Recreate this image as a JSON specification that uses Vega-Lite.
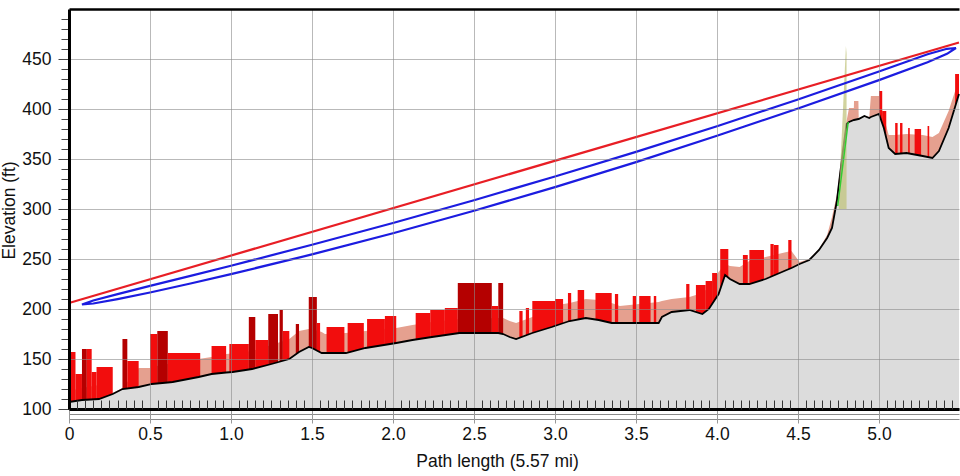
{
  "$schema": "https://vega.github.io/schema/vega-lite/v6.json",
  "width": 890,
  "height": 400,
  "autosize": {"type": "none"},
  "padding": {"left": 69, "top": 9, "right": 1, "bottom": 67},
  "background": "white",
  "config": {"view": {"stroke": null}, "font": "Liberation Sans"},
  "resolve": {"axis": {"x": "independent", "y": "independent"}},
  "datasets": {
    "profile": [
      {"x": 0, "ground": 107, "clutter": 118},
      {"x": 0.08, "ground": 109, "clutter": 121},
      {"x": 0.185, "ground": 110, "clutter": 124},
      {"x": 0.27, "ground": 115, "clutter": 116},
      {"x": 0.33, "ground": 120, "clutter": 121},
      {"x": 0.43, "ground": 122, "clutter": 141},
      {"x": 0.5, "ground": 124.5, "clutter": 141},
      {"x": 0.51, "ground": 125, "clutter": 142},
      {"x": 0.61, "ground": 126.5, "clutter": 145},
      {"x": 0.64, "ground": 127, "clutter": 146},
      {"x": 0.8, "ground": 132, "clutter": 150},
      {"x": 0.88, "ground": 135, "clutter": 152},
      {"x": 0.97, "ground": 136.5, "clutter": 155},
      {"x": 1.01, "ground": 137, "clutter": 155.5},
      {"x": 1.13, "ground": 140, "clutter": 158},
      {"x": 1.25, "ground": 145, "clutter": 164},
      {"x": 1.36, "ground": 150, "clutter": 170},
      {"x": 1.42, "ground": 157, "clutter": 178},
      {"x": 1.48, "ground": 162, "clutter": 180},
      {"x": 1.5, "ground": 161, "clutter": 180},
      {"x": 1.56, "ground": 156, "clutter": 177},
      {"x": 1.58, "ground": 156, "clutter": 175},
      {"x": 1.71, "ground": 156, "clutter": 176},
      {"x": 1.83, "ground": 161, "clutter": 178},
      {"x": 2.02, "ground": 166, "clutter": 181},
      {"x": 2.12, "ground": 169, "clutter": 184},
      {"x": 2.24, "ground": 172, "clutter": 187},
      {"x": 2.41, "ground": 176, "clutter": 190},
      {"x": 2.65, "ground": 176, "clutter": 191},
      {"x": 2.68, "ground": 175, "clutter": 191},
      {"x": 2.72, "ground": 172, "clutter": 188},
      {"x": 2.76, "ground": 170, "clutter": 186},
      {"x": 2.86, "ground": 176, "clutter": 192},
      {"x": 2.98, "ground": 182, "clutter": 203},
      {"x": 3.09, "ground": 188, "clutter": 206},
      {"x": 3.19, "ground": 191, "clutter": 210},
      {"x": 3.27, "ground": 189, "clutter": 209},
      {"x": 3.35, "ground": 186, "clutter": 206},
      {"x": 3.4, "ground": 186, "clutter": 203},
      {"x": 3.52, "ground": 186, "clutter": 205},
      {"x": 3.64, "ground": 186, "clutter": 207},
      {"x": 3.66, "ground": 192, "clutter": 208},
      {"x": 3.72, "ground": 197, "clutter": 210},
      {"x": 3.83, "ground": 199, "clutter": 212},
      {"x": 3.91, "ground": 195, "clutter": 216},
      {"x": 3.95, "ground": 200, "clutter": 222},
      {"x": 4.01, "ground": 215, "clutter": 237},
      {"x": 4.05, "ground": 234, "clutter": 245},
      {"x": 4.08, "ground": 230, "clutter": 243},
      {"x": 4.14, "ground": 225, "clutter": 242},
      {"x": 4.2, "ground": 225, "clutter": 248},
      {"x": 4.3, "ground": 230, "clutter": 252},
      {"x": 4.43, "ground": 239, "clutter": 257},
      {"x": 4.46, "ground": 241, "clutter": 258},
      {"x": 4.51, "ground": 245, "clutter": 247},
      {"x": 4.57, "ground": 249, "clutter": 250},
      {"x": 4.63, "ground": 259, "clutter": 260},
      {"x": 4.68, "ground": 271, "clutter": 274},
      {"x": 4.71, "ground": 281, "clutter": 292},
      {"x": 4.74, "ground": 308, "clutter": 314},
      {"x": 4.76, "ground": 335, "clutter": 340},
      {"x": 4.78, "ground": 361, "clutter": 366},
      {"x": 4.8, "ground": 385, "clutter": 388},
      {"x": 4.815, "ground": 387, "clutter": 401},
      {"x": 4.845, "ground": 389, "clutter": 401},
      {"x": 4.846, "ground": 389, "clutter": 408},
      {"x": 4.873, "ground": 390, "clutter": 408},
      {"x": 4.875, "ground": 390, "clutter": 391},
      {"x": 4.91, "ground": 393, "clutter": 393},
      {"x": 4.94, "ground": 391, "clutter": 392},
      {"x": 4.95, "ground": 392, "clutter": 413},
      {"x": 5.0, "ground": 395, "clutter": 413},
      {"x": 5.03, "ground": 381, "clutter": 392},
      {"x": 5.06, "ground": 361, "clutter": 374},
      {"x": 5.1, "ground": 355, "clutter": 374},
      {"x": 5.17, "ground": 356, "clutter": 375},
      {"x": 5.27, "ground": 353, "clutter": 374},
      {"x": 5.33, "ground": 351, "clutter": 372},
      {"x": 5.37, "ground": 358, "clutter": 376},
      {"x": 5.43, "ground": 381, "clutter": 398},
      {"x": 5.494, "ground": 415, "clutter": 430}
    ],
    "bars": [
      {"x0": 0.0, "x1": 0.04, "top": 157, "base": 107, "kind": "red"},
      {"x0": 0.04, "x1": 0.08, "top": 135, "base": 108, "kind": "red"},
      {"x0": 0.08, "x1": 0.11, "top": 160, "base": 109, "kind": "dark"},
      {"x0": 0.11, "x1": 0.14, "top": 160, "base": 109.5, "kind": "red"},
      {"x0": 0.14, "x1": 0.17, "top": 137, "base": 109.5, "kind": "red"},
      {"x0": 0.17, "x1": 0.27, "top": 142, "base": 110, "kind": "red"},
      {"x0": 0.33, "x1": 0.36, "top": 170, "base": 120, "kind": "dark"},
      {"x0": 0.36, "x1": 0.43, "top": 148, "base": 120.5, "kind": "red"},
      {"x0": 0.5, "x1": 0.545, "top": 175, "base": 124.5, "kind": "red"},
      {"x0": 0.545, "x1": 0.61, "top": 178, "base": 125.5, "kind": "dark"},
      {"x0": 0.61, "x1": 0.81, "top": 156, "base": 126.5, "kind": "red"},
      {"x0": 0.88, "x1": 0.97, "top": 163, "base": 135, "kind": "red"},
      {"x0": 0.99, "x1": 1.11, "top": 165, "base": 137, "kind": "red"},
      {"x0": 1.11, "x1": 1.15, "top": 192, "base": 139.5, "kind": "dark"},
      {"x0": 1.15, "x1": 1.23, "top": 169, "base": 140.8, "kind": "red"},
      {"x0": 1.23, "x1": 1.29, "top": 195, "base": 144, "kind": "dark"},
      {"x0": 1.3, "x1": 1.32, "top": 199, "base": 147.5, "kind": "dark"},
      {"x0": 1.32, "x1": 1.36, "top": 178, "base": 148, "kind": "red"},
      {"x0": 1.4, "x1": 1.42, "top": 185, "base": 155, "kind": "dark"},
      {"x0": 1.48, "x1": 1.53, "top": 212, "base": 158.5, "kind": "dark"},
      {"x0": 1.53, "x1": 1.55, "top": 186, "base": 156.5, "kind": "red"},
      {"x0": 1.59, "x1": 1.7, "top": 182, "base": 156, "kind": "red"},
      {"x0": 1.72, "x1": 1.82, "top": 186, "base": 156.3, "kind": "red"},
      {"x0": 1.84, "x1": 1.95, "top": 190, "base": 161.3, "kind": "red"},
      {"x0": 1.95, "x1": 2.02, "top": 193, "base": 164, "kind": "red"},
      {"x0": 2.14, "x1": 2.23, "top": 196, "base": 169.5, "kind": "red"},
      {"x0": 2.23, "x1": 2.32, "top": 199, "base": 171.7, "kind": "red"},
      {"x0": 2.32, "x1": 2.4, "top": 201, "base": 174, "kind": "red"},
      {"x0": 2.4, "x1": 2.61, "top": 226, "base": 176, "kind": "dark"},
      {"x0": 2.61, "x1": 2.65, "top": 203, "base": 176, "kind": "red"},
      {"x0": 2.65, "x1": 2.68, "top": 226, "base": 175, "kind": "dark"},
      {"x0": 2.78, "x1": 2.8, "top": 198, "base": 171, "kind": "red"},
      {"x0": 2.82, "x1": 2.84, "top": 201, "base": 173.5, "kind": "red"},
      {"x0": 2.86, "x1": 3.0, "top": 208, "base": 176, "kind": "red"},
      {"x0": 3.0, "x1": 3.05, "top": 210, "base": 183, "kind": "red"},
      {"x0": 3.08, "x1": 3.1, "top": 216, "base": 187.5, "kind": "red"},
      {"x0": 3.14, "x1": 3.18, "top": 219, "base": 189.5, "kind": "red"},
      {"x0": 3.25, "x1": 3.35, "top": 216, "base": 186, "kind": "red"},
      {"x0": 3.37, "x1": 3.39, "top": 215, "base": 186, "kind": "red"},
      {"x0": 3.48, "x1": 3.5, "top": 213, "base": 186, "kind": "red"},
      {"x0": 3.52, "x1": 3.59, "top": 213, "base": 186, "kind": "red"},
      {"x0": 3.61, "x1": 3.625, "top": 213, "base": 186, "kind": "red"},
      {"x0": 3.81, "x1": 3.83, "top": 225, "base": 198.5, "kind": "red"},
      {"x0": 3.87, "x1": 3.93, "top": 224, "base": 195, "kind": "red"},
      {"x0": 3.93, "x1": 3.97, "top": 228, "base": 196, "kind": "red"},
      {"x0": 3.97, "x1": 4.0, "top": 236, "base": 205, "kind": "red"},
      {"x0": 4.02, "x1": 4.07, "top": 260, "base": 218, "kind": "red"},
      {"x0": 4.16, "x1": 4.19, "top": 254, "base": 225, "kind": "red"},
      {"x0": 4.2, "x1": 4.29, "top": 259, "base": 225, "kind": "red"},
      {"x0": 4.33, "x1": 4.35, "top": 265, "base": 232, "kind": "red"},
      {"x0": 4.35, "x1": 4.38, "top": 264, "base": 233.5, "kind": "red"},
      {"x0": 4.44, "x1": 4.46, "top": 269, "base": 239.5, "kind": "red"},
      {"x0": 5.0, "x1": 5.02, "top": 418, "base": 385, "kind": "red"},
      {"x0": 5.02, "x1": 5.045, "top": 398, "base": 368, "kind": "red"},
      {"x0": 5.1, "x1": 5.115, "top": 386, "base": 355, "kind": "red"},
      {"x0": 5.13, "x1": 5.145, "top": 386, "base": 355, "kind": "red"},
      {"x0": 5.18, "x1": 5.19, "top": 381, "base": 355.5, "kind": "red"},
      {"x0": 5.22, "x1": 5.26, "top": 380, "base": 354, "kind": "red"},
      {"x0": 5.3, "x1": 5.31, "top": 383, "base": 352, "kind": "red"},
      {"x0": 5.47, "x1": 5.494, "top": 435, "base": 400, "kind": "red"}
    ],
    "lens": [
      {"x": 0.08, "upper": 204.5, "lower": 204.5},
      {"x": 0.15, "upper": 208.5, "lower": 205.5},
      {"x": 0.3, "upper": 214.9, "lower": 209.9},
      {"x": 0.5, "upper": 223.1, "lower": 216.5},
      {"x": 0.75, "upper": 233.1, "lower": 225.5},
      {"x": 1.0, "upper": 243.3, "lower": 234.9},
      {"x": 1.5, "upper": 264.2, "lower": 254.6},
      {"x": 2.0, "upper": 286.0, "lower": 275.8},
      {"x": 2.5, "upper": 308.8, "lower": 298.2},
      {"x": 3.0, "upper": 332.5, "lower": 321.9},
      {"x": 3.5, "upper": 357.1, "lower": 346.9},
      {"x": 4.0, "upper": 382.8, "lower": 373.2},
      {"x": 4.5, "upper": 409.5, "lower": 400.5},
      {"x": 5.0, "upper": 437.5, "lower": 428.9},
      {"x": 5.3, "upper": 454.7, "lower": 446.7},
      {"x": 5.42, "upper": 460.2, "lower": 455.2},
      {"x": 5.475, "upper": 461, "lower": 461}
    ],
    "los": [
      {"x": 0, "elev": 206},
      {"x": 5.494, "elev": 466.5}
    ],
    "green": [
      {"x": 4.745, "elev": 303},
      {"x": 4.81, "elev": 387}
    ],
    "sliver": [
      {"x": 4.752, "top": 310, "bot": 300},
      {"x": 4.796, "top": 463, "bot": 300},
      {"x": 4.8, "top": 455, "bot": 300}
    ]
  },
  "layer": [
    {
      "data": {"name": "profile"},
      "mark": {"type": "area", "color": "#e5a08f"},
      "encoding": {
        "x": {
          "field": "x", "type": "quantitative",
          "scale": {"domain": [0, 5.494], "nice": false, "zero": false},
          "axis": {
            "orient": "bottom", "zindex": 1,
            "values": [0, 0.5, 1, 1.5, 2, 2.5, 3, 3.5, 4, 4.5, 5],
            "title": "Path length (5.57 mi)",
            "titleFont": "Liberation Sans", "titleFontSize": 17.5, "titleFontWeight": "normal", "titleColor": "#111",
            "titleX": 428, "titleY": 57, "titleBaseline": "alphabetic", "titleAlign": "center", "titleAnchor": "start",
            "labelExpr": "datum.value == 0 ? '0' : format(datum.value, '.1f')",
            "labelFont": "Liberation Sans", "labelFontSize": 17.5, "labelColor": "#111",
            "labelPadding": 2, "labelOverlap": false, "labelFlush": false, "labelBound": false,
            "domain": true, "domainColor": "#000", "domainWidth": 3,
            "ticks": true, "tickColor": "#999999", "tickSize": 14, "tickWidth": 1,
            "grid": true, "gridColor": "#8a8a8a", "gridOpacity": 0.6, "gridWidth": 1
          }
        },
        "y": {
          "field": "clutter", "type": "quantitative",
          "scale": {"domain": [100, 500], "nice": false, "zero": false},
          "axis": {
            "orient": "left", "zindex": 1,
            "values": [100, 150, 200, 250, 300, 350, 400, 450],
            "title": "Elevation (ft)",
            "titleFont": "Liberation Sans", "titleFontSize": 17.5, "titleFontWeight": "normal", "titleColor": "#111",
            "titleX": -55, "titleY": 201, "titleAngle": 270, "titleBaseline": "alphabetic", "titleAlign": "center", "titleAnchor": "start",
            "labelFont": "Liberation Sans", "labelFontSize": 17.5, "labelColor": "#111",
            "labelPadding": 7, "labelOverlap": false, "labelFlush": false, "labelBound": false,
            "domain": true, "domainColor": "#000", "domainWidth": 3,
            "ticks": true, "tickColor": "#444444", "tickSize": 11, "tickWidth": 1,
            "grid": true, "gridColor": "#8a8a8a", "gridOpacity": 0.6, "gridWidth": 1
          }
        },
        "y2": {"field": "ground"}
      }
    },
    {
      "data": {"name": "bars"},
      "mark": {"type": "rect"},
      "encoding": {
        "x": {"field": "x0", "type": "quantitative", "axis": null},
        "x2": {"field": "x1"},
        "y": {"field": "top", "type": "quantitative", "axis": null},
        "y2": {"field": "base"},
        "color": {"field": "kind", "type": "nominal", "scale": {"domain": ["red", "dark"], "range": ["#f20d0d", "#b40000"]}, "legend": null}
      }
    },
    {
      "data": {"name": "profile"},
      "mark": {"type": "area", "color": "#dcdcdc", "opacity": 1},
      "encoding": {
        "x": {"field": "x", "type": "quantitative", "axis": null},
        "y": {"field": "ground", "type": "quantitative", "axis": null},
        "y2": {"datum": 100}
      }
    },
    {
      "data": {"name": "profile"},
      "mark": {"type": "line", "color": "#000000", "strokeWidth": 1.8},
      "encoding": {
        "x": {
          "field": "x", "type": "quantitative",
          "axis": {
            "orient": "bottom", "offset": -9, "zindex": 1,
            "values": [0.05,0.1,0.15,0.2,0.25,0.3,0.35,0.4,0.45,0.55,0.6,0.65,0.7,0.75,0.8,0.85,0.9,0.95,1.05,1.1,1.15,1.2,1.25,1.3,1.35,1.4,1.45,1.55,1.6,1.65,1.7,1.75,1.8,1.85,1.9,1.95,2.05,2.1,2.15,2.2,2.25,2.3,2.35,2.4,2.45,2.55,2.6,2.65,2.7,2.75,2.8,2.85,2.9,2.95,3.05,3.1,3.15,3.2,3.25,3.3,3.35,3.4,3.45,3.55,3.6,3.65,3.7,3.75,3.8,3.85,3.9,3.95,4.05,4.1,4.15,4.2,4.25,4.3,4.35,4.4,4.45,4.55,4.6,4.65,4.7,4.75,4.8,4.85,4.9,4.95,5.05,5.1,5.15,5.2,5.25,5.3,5.35,5.4,5.45],
            "title": null, "labels": false, "domain": false, "grid": false,
            "ticks": true, "tickColor": "#333333", "tickSize": 9, "tickWidth": 1
          }
        },
        "y": {
          "field": "ground", "type": "quantitative",
          "axis": {
            "orient": "left",
            "values": [110,120,130,140,160,170,180,190,210,220,230,240,260,270,280,290,310,320,330,340,360,370,380,390,410,420,430,440,460,470,480,490],
            "title": null, "labels": false, "domain": false, "grid": false,
            "ticks": true, "tickColor": "#444444", "tickSize": 8, "tickWidth": 1
          }
        }
      }
    },
    {
      "data": {"name": "sliver"},
      "mark": {"type": "area", "color": "#c2c47e", "opacity": 0.75},
      "encoding": {
        "x": {
          "field": "x", "type": "quantitative",
          "axis": {
            "orient": "bottom", "offset": 5, "values": [], "title": null, "labels": false, "ticks": false, "grid": false,
            "domain": true, "domainColor": "#8a8a8a", "domainWidth": 1
          }
        },
        "y": {"field": "top", "type": "quantitative", "axis": null},
        "y2": {"field": "bot"}
      }
    },
    {
      "data": {"name": "green"},
      "mark": {"type": "line", "color": "#33cc33", "strokeWidth": 1.5},
      "encoding": {
        "x": {
          "field": "x", "type": "quantitative",
          "axis": {
            "orient": "bottom", "offset": 10, "values": [], "title": null, "labels": false, "ticks": false, "grid": false,
            "domain": true, "domainColor": "#8a8a8a", "domainWidth": 1
          }
        },
        "y": {"field": "elev", "type": "quantitative", "axis": null}
      }
    },
    {
      "data": {"name": "lens"},
      "mark": {"type": "area", "fill": null, "fillOpacity": 0, "stroke": "#1c1ce0", "strokeWidth": 2.2},
      "encoding": {
        "x": {"field": "x", "type": "quantitative", "axis": null},
        "y": {"field": "upper", "type": "quantitative", "axis": null},
        "y2": {"field": "lower"}
      }
    },
    {
      "data": {"name": "los"},
      "mark": {"type": "line", "color": "#e81e25", "strokeWidth": 2.2},
      "encoding": {
        "x": {
          "field": "x", "type": "quantitative",
          "axis": {
            "orient": "top", "zindex": 1, "values": [], "title": null, "labels": false, "ticks": false, "grid": false,
            "domain": true, "domainColor": "#000", "domainWidth": 2.5
          }
        },
        "y": {"field": "elev", "type": "quantitative", "axis": null}
      }
    }
  ]
}
